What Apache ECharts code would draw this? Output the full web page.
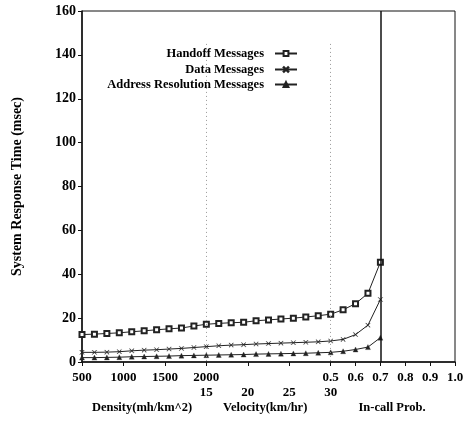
<!DOCTYPE html>
<html>
<head>
<meta charset="utf-8">
<script src="https://cdn.jsdelivr.net/npm/echarts@6/dist/echarts.min.js"></script>
<style>html,body{margin:0;padding:0;background:#fff}#c{width:467px;height:422px}</style>
</head>
<body>
<div id="c"></div>
<script>
// x values of the measured points (three concatenated segments)
const densityX = [500, 650, 800, 950, 1100, 1250, 1400, 1550, 1700, 1850, 2000];
const velocityX = [16.5, 18, 19.5, 21, 22.5, 24, 25.5, 27, 28.5, 30];
const probX = [0.55, 0.6, 0.65, 0.7];

const handoff = [12.5, 12.7, 13.0, 13.3, 13.8, 14.2, 14.7, 15.1, 15.5, 16.4, 17.2,
                 17.6, 17.9, 18.1, 18.8, 19.2, 19.6, 20.0, 20.5, 21.1, 21.8,
                 23.8, 26.6, 31.3, 45.5];
const dataMsg = [4.4, 4.4, 4.5, 4.7, 5.1, 5.4, 5.6, 5.9, 6.2, 6.6, 7.0,
                 7.4, 7.7, 7.9, 8.2, 8.4, 8.6, 8.8, 9.0, 9.2, 9.6,
                 10.3, 12.5, 16.8, 28.5];
const addrMsg = [2.0, 2.0, 2.1, 2.2, 2.4, 2.5, 2.6, 2.7, 2.9, 3.0, 3.1,
                 3.2, 3.3, 3.4, 3.6, 3.7, 3.8, 3.9, 4.0, 4.2, 4.4,
                 4.9, 5.7, 6.8, 11.1];

const densityTicks = [500, 1000, 1500, 2000];
const velocityTicks = [15, 20, 25, 30];
const probTicks = ['0.5', '0.6', '0.7', '0.8', '0.9', '1.0'];
const segmentNames = ['Density(mh/km^2)', 'Velocity(km/hr)', 'In-call Prob.'];
const seriesNames = ['Handoff Messages', 'Data Messages', 'Address Resolution Messages'];
const yTicks = [0, 20, 40, 60, 80, 100, 120, 140, 160];

// map each segment onto a common axis of 3 units per segment
const posD = d => (d - 500) / 500;
const posV = v => 3 + (v - 15) / 5;
const posP = p => 6 + (p - 0.5) * 6;
const r = v => Math.round(v * 1000) / 1000;

const xs = [].concat(densityX.map(posD), velocityX.map(posV), probX.map(posP));
const pair = arr => arr.map((v, i) => [xs[i], v]);

const row1 = {};
densityTicks.forEach(d => row1[r(posD(d))] = String(d));
probTicks.forEach(p => row1[r(posP(parseFloat(p)))] = p);
const row2 = {};
velocityTicks.forEach(v => row2[r(posV(v))] = String(v));
const namePos = [1.45, 4.42, 7.48];
const row3 = {};
namePos.forEach((p, i) => row3[r(p)] = segmentNames[i]);

const FONT = 'Liberation Serif';
const lbl = {fontFamily: FONT, fontWeight: 'bold', fontSize: 13, color: '#000'};

const xRow1 = Object.keys(row1).map(Number);
const xTicks = Array.from(new Set(xRow1.concat(Object.keys(row2).map(Number)))).sort((a, b) => a - b);

const xCross = 'path://M0,0.7L0.7,0L5,4.3L9.3,0L10,0.7L5.7,5L10,9.3L9.3,10L5,5.7L0.7,10L0,9.3L4.3,5Z';
const symbols = ['emptyRect', xCross, 'triangle'];
const sizes = [5, 4.5, 5];
const legendTops = [47, 63, 78];

const series = [handoff, dataMsg, addrMsg].map((arr, i) => ({
  name: seriesNames[i],
  type: 'line',
  data: pair(arr),
  symbol: symbols[i],
  symbolSize: sizes[i],
  showAllSymbol: true,
  lineStyle: {color: '#222', width: 1},
  itemStyle: {color: '#222', borderColor: '#222', borderWidth: i === 0 ? 1 : 0.3},
  animation: false,
  z: 3
}));

series[0].markLine = {
  silent: true,
  symbol: 'none',
  label: {show: false},
  animation: false,
  data: [
    [{coord: [3, 145], lineStyle: {type: [1, 3], color: '#999', width: 1}}, {coord: [3, 0]}],
    [{coord: [6, 145], lineStyle: {type: [1, 3], color: '#999', width: 1}}, {coord: [6, 0]}],
    [{coord: [posP(0.7), 0], lineStyle: {type: 'solid', color: '#111', width: 1.5}}, {coord: [posP(0.7), 160]}]
  ]
};

const legends = seriesNames.map((n, i) => ({
  data: [n],
  right: 169,
  top: legendTops[i],
  align: 'right',
  orient: 'vertical',
  itemWidth: 22,
  itemHeight: 6,
  padding: 0,
  textStyle: {fontFamily: FONT, fontWeight: 'bold', fontSize: 12.5, color: '#000', padding: [0, 6, 0, 0]},
  selectedMode: false
}));

const chart = echarts.init(document.getElementById('c'), null, {renderer: 'canvas'});
chart.setOption({
  backgroundColor: '#fff',
  animation: false,
  legend: legends,
  grid: {left: 82, right: 12, top: 11, bottom: 60, show: true, borderColor: '#111', borderWidth: 1},
  xAxis: [
    {
      type: 'value', min: 0, max: 9, position: 'bottom',
      axisLine: {show: true, onZero: false, lineStyle: {color: '#111', width: 1.5}},
      axisTick: {show: true, inside: false, length: 4, customValues: xTicks, lineStyle: {color: '#111'}},
      axisLabel: Object.assign({margin: 9, customValues: xRow1, formatter: v => row1[r(v)] || ''}, lbl),
      splitLine: {show: false}
    },
    {
      type: 'value', min: 0, max: 9, position: 'bottom', offset: 15,
      axisLine: {show: false}, axisTick: {show: false}, splitLine: {show: false},
      axisLabel: Object.assign({margin: 9, customValues: Object.keys(row2).map(Number), formatter: v => row2[r(v)] || ''}, lbl)
    },
    {
      type: 'value', min: 0, max: 9, position: 'bottom', offset: 30,
      axisLine: {show: false}, axisTick: {show: false}, splitLine: {show: false},
      axisLabel: Object.assign({margin: 9, customValues: namePos, formatter: v => row3[r(v)] || ''}, lbl, {fontSize: 12.5})
    }
  ],
  yAxis: {
    type: 'value', min: 0, max: 160, interval: 20,
    name: 'System Response Time (msec)',
    nameLocation: 'middle', nameGap: 58,
    nameTextStyle: {fontFamily: FONT, fontWeight: 'bold', fontSize: 14, color: '#000'},
    axisLine: {show: true, lineStyle: {color: '#111', width: 1.5}},
    axisTick: {show: true, inside: false, length: 4, lineStyle: {color: '#111'}},
    axisLabel: Object.assign({margin: 6, formatter: v => yTicks.indexOf(v) >= 0 ? String(v) : ''}, lbl, {fontSize: 14}),
    splitLine: {show: false}
  },
  series: series
});
</script>
</body>
</html>
